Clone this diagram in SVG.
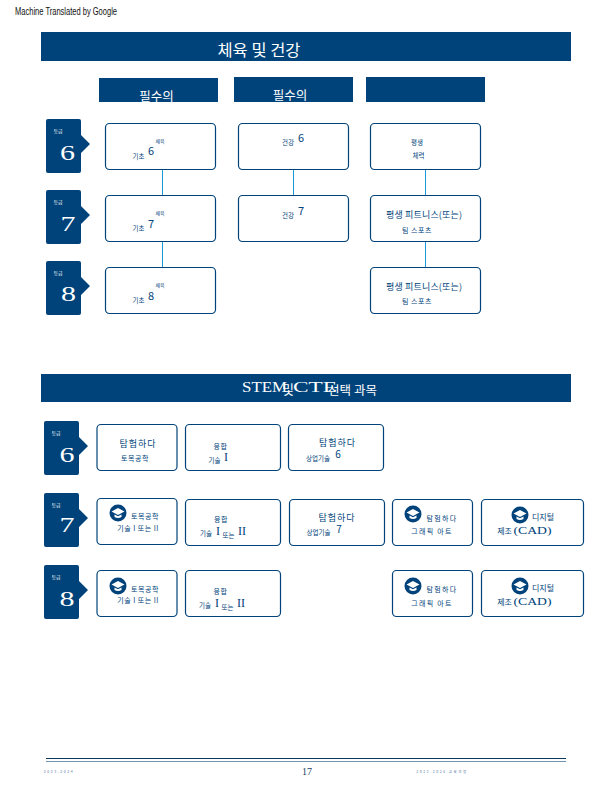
<svg xmlns="http://www.w3.org/2000/svg" width="616" height="800" viewBox="0 0 616 800">
<style>
.bar{fill:#00437a}
.box{fill:#fff;stroke:#00437a;stroke-width:1.2}
.link{stroke:#1c9ad6;stroke-width:1;fill:none}
text{font-family:"Noto Sans CJK KR","Liberation Sans",sans-serif;fill:#00437a;text-anchor:middle}
.s{font-family:"Liberation Serif","Noto Sans CJK KR",serif}
.w{fill:#fff}
.t5{font-size:5px}.t6{font-size:6.500px}.t7{font-size:7px;letter-spacing:.5px}.t7w{font-size:7px;letter-spacing:1.300px}.t8{font-size:8px}.t9{font-size:9px}.t10{font-size:10px}.t11{font-size:11px}.t13{font-size:12px}
.num{font-family:"Liberation Serif",serif;font-size:20px;fill:#fff}
</style>
<defs>
<path id="badge" d="M2 0H33Q35 0 35 2V16L44 25L35 34V52Q35 54 33 54H2Q0 54 0 52V2Q0 0 2 0Z" class="bar"/>
<g id="cap">
<circle r="8.500" fill="#00437a"/>
<path d="M-6.500 -1.500L0 -5L6.500 -1.500L0 2Z" fill="#fff"/>
<path d="M-3.500 1.500V4Q0 6 3.500 4V1.500L0 3.300Z" fill="#fff"/>
</g>
</defs>
<text x="66" y="15" textLength="102" lengthAdjust="spacingAndGlyphs" style="font-family:'Liberation Sans',sans-serif;font-size:10px;fill:#111">Machine Translated by Google</text>

<g id="header-pe">
<rect class="bar" x="41" y="32" width="530" height="29"/>
<text class="w" x="259" y="56" style="font-size:16px" textLength="83" lengthAdjust="spacingAndGlyphs">체육 및 건강</text>
</g>
<g id="col-1"><rect class="bar" x="99" y="78" width="119" height="24"/><text class="w" style="font-size:12.500px" x="156.500" y="100.500">필수의</text></g>
<g id="col-2"><rect class="bar" x="234" y="77" width="119" height="25"/><text class="w" style="font-size:12.500px" x="290" y="99.500">필수의</text></g>
<g id="col-3"><rect class="bar" x="366" y="77" width="119" height="25"/></g>

<g id="connectors">
<path class="link" d="M162.500 170V196M162.500 242V268M293.500 170V196M425.500 170V196M425.500 242V268"/>
</g>

<g id="grade-6a"><use href="#badge" x="46" y="119"/><text class="w t5" x="58" y="133">등급</text><text class="num" x="67.500" y="160" textLength="15" lengthAdjust="spacingAndGlyphs">6</text></g>
<g id="grade-7a"><use href="#badge" x="46" y="190"/><text class="w t5" x="58" y="204">등급</text><text class="num" x="68" y="231" textLength="15" lengthAdjust="spacingAndGlyphs">7</text></g>
<g id="grade-8a"><use href="#badge" x="46" y="261"/><text class="w t5" x="58" y="275">등급</text><text class="num" x="68.500" y="301" textLength="15" lengthAdjust="spacingAndGlyphs">8</text></g>

<g id="pe-6"><rect class="box" x="105.500" y="123.500" width="110" height="46" rx="4"/><text class="t5" x="160" y="143">체육</text><text class="t6" x="138.500" y="158.500">기초</text><text class="t11" x="151" y="155">6</text></g>
<g id="pe-7"><rect class="box" x="105.500" y="195.500" width="110" height="46" rx="4"/><text class="t5" x="160" y="215">체육</text><text class="t6" x="138.500" y="230.500">기초</text><text class="t11" x="151" y="228">7</text></g>
<g id="pe-8"><rect class="box" x="105.500" y="267.500" width="110" height="46" rx="4"/><text class="t5" x="160" y="287">체육</text><text class="t6" x="138.500" y="302.500">기초</text><text class="t11" x="151" y="300">8</text></g>

<g id="health-6"><rect class="box" x="238.500" y="123.500" width="110" height="46" rx="4"/><text class="t6" x="288" y="145">건강</text><text class="t11" x="301" y="142">6</text></g>
<g id="health-7"><rect class="box" x="238.500" y="195.500" width="110" height="46" rx="4"/><text class="t6" x="288" y="218">건강</text><text class="t11" x="301" y="215">7</text></g>

<g id="fit-6"><rect class="box" x="370.500" y="123.500" width="110" height="46" rx="4"/><text class="t6" x="417" y="145">평생</text><text class="t6" x="418.500" y="158">체력</text></g>
<g id="fit-7"><rect class="box" x="370.500" y="195.500" width="110" height="46" rx="4"/><text class="t9" x="424" y="218" textLength="76" lengthAdjust="spacing">평생 피트니스(또는)</text><text class="t7" x="417" y="232.500">팀 스포츠</text></g>
<g id="fit-8"><rect class="box" x="370.500" y="267.500" width="110" height="46" rx="4"/><text class="t9" x="424" y="290" textLength="76" lengthAdjust="spacing">평생 피트니스(또는)</text><text class="t7" x="417" y="304">팀 스포츠</text></g>

<g id="header-stem">
<rect class="bar" x="41" y="374" width="530" height="28"/>
<text class="w s" x="264.500" y="392" style="font-size:15px" textLength="45" lengthAdjust="spacingAndGlyphs">STEM</text>
<text class="w" x="288" y="394" style="font-size:13px">및</text>
<text class="w s" x="315" y="392" style="font-size:15px" textLength="44" lengthAdjust="spacingAndGlyphs">CTE</text>
<text class="w" style="font-size:12.500px" x="352.500" y="395">선택 과목</text>
</g>

<g id="grade-6b"><use href="#badge" x="44" y="421"/><text class="w t5" x="56" y="435">등급</text><text class="num" x="67" y="462" textLength="15" lengthAdjust="spacingAndGlyphs">6</text></g>
<g id="grade-7b"><use href="#badge" x="44" y="493"/><text class="w t5" x="56" y="507">등급</text><text class="num" x="67" y="532" textLength="15" lengthAdjust="spacingAndGlyphs">7</text></g>
<g id="grade-8b"><use href="#badge" x="44" y="565"/><text class="w t5" x="56" y="579">등급</text><text class="num" x="67" y="606" textLength="15" lengthAdjust="spacingAndGlyphs">8</text></g>

<g id="e6-1"><rect class="box" x="97" y="424.500" width="80" height="46" rx="4"/><text class="t9" x="137.500" y="447" textLength="36">탐험하다</text><text class="t7" x="135" y="460.500">토목공학</text></g>
<g id="e6-2"><rect class="box" x="185.500" y="424.500" width="95" height="46" rx="4"/><text class="t7" x="220.500" y="449">융합</text><text class="t6" x="214.500" y="462.500">기술</text><text class="t13 s" x="226" y="461">I</text></g>
<g id="e6-3"><rect class="box" x="288.500" y="424.500" width="95" height="46" rx="4"/><text class="t9" x="337" y="446" textLength="36">탐험하다</text><text class="t6" x="318" y="460.500">상업기술</text><text class="t10" x="338" y="458">6</text></g>

<g id="e7-1"><rect class="box" x="97" y="498.500" width="80" height="46" rx="4"/><use href="#cap" x="118" y="513"/><text class="t7" x="145" y="519">토목공학</text><text class="t7" x="138" y="530.500">기술 I 또는 II</text></g>
<g id="e7-2"><rect class="box" x="185.500" y="499.500" width="95" height="46" rx="4"/><text class="t7" x="221" y="522">융합</text><text class="t6" x="206" y="536">기술</text><text class="t13 s" x="218" y="535">I</text><text class="t6" x="228.500" y="537.500">또는</text><text class="t13 s" x="242" y="535">II</text></g>
<g id="e7-3"><rect class="box" x="289.500" y="499.500" width="95" height="46" rx="4"/><text class="t9" x="336.500" y="521" textLength="36">탐험하다</text><text class="t6" x="318.500" y="534.500">상업기술</text><text class="t10" x="339" y="533">7</text></g>
<g id="e7-4"><rect class="box" x="392.500" y="499.500" width="80" height="46" rx="4"/><use href="#cap" x="413" y="514"/><text class="t7w" x="442" y="520.500">탐험하다</text><text class="t7w" x="432" y="534">그래픽 아트</text></g>
<g id="e7-5"><rect class="box" x="481.500" y="499.500" width="102" height="46" rx="4"/><use href="#cap" x="520" y="515"/><text class="t8" x="543" y="519.500">디지털</text><text class="t8" x="504.500" y="533.500">제조</text><text class="t11 s" x="532.500" y="533.500" textLength="38" lengthAdjust="spacingAndGlyphs">(CAD)</text></g>

<g id="e8-1"><rect class="box" x="97" y="570.500" width="80" height="46" rx="4"/><use href="#cap" x="118" y="586"/><text class="t7" x="145" y="592">토목공학</text><text class="t7" x="138" y="602.500">기술 I 또는 II</text></g>
<g id="e8-2"><rect class="box" x="185.500" y="570.500" width="95" height="46" rx="4"/><text class="t7" x="220.500" y="594">융합</text><text class="t6" x="205" y="608">기술</text><text class="t13 s" x="217" y="607">I</text><text class="t6" x="227.500" y="609.500">또는</text><text class="t13 s" x="241" y="607">II</text></g>
<g id="e8-4"><rect class="box" x="392.500" y="570.500" width="80" height="46" rx="4"/><use href="#cap" x="413" y="586"/><text class="t7w" x="442" y="592">탐험하다</text><text class="t7w" x="432" y="605.500">그래픽 아트</text></g>
<g id="e8-5"><rect class="box" x="481.500" y="570.500" width="102" height="46" rx="4"/><use href="#cap" x="520" y="586"/><text class="t8" x="543" y="590.500">디지털</text><text class="t8" x="504.500" y="604.500">제조</text><text class="t11 s" x="532.500" y="604.500" textLength="38" lengthAdjust="spacingAndGlyphs">(CAD)</text></g>

<g id="footer">
<rect x="46" y="758" width="520" height="1" fill="#0a3a5c"/>
<rect x="46" y="761" width="520" height="1" fill="#6f93ab"/>
<text x="59" y="773" style="font-size:3.500px;letter-spacing:1.500px" opacity=".7">2023-2024</text>
<text class="s" x="307" y="775" style="font-size:10px;fill:#1c3f66">17</text>
<text x="442" y="773" style="font-size:3.500px;letter-spacing:1.500px" opacity=".7">2023-2024 교육과정</text>
</g>
</svg>
